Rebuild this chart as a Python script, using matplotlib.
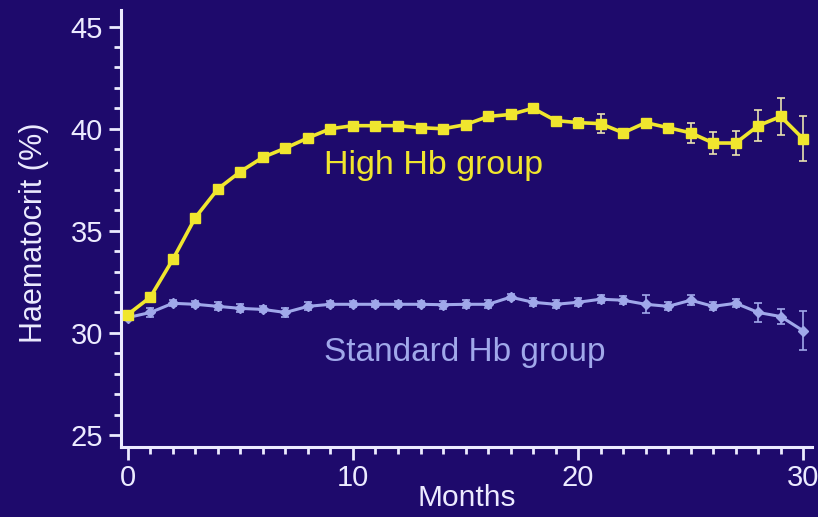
import matplotlib
matplotlib.use("Agg")
import matplotlib.pyplot as plt
from matplotlib.ticker import MultipleLocator

months = list(range(31))

high_hb = [30.9, 31.75, 33.6, 35.65, 37.05, 37.9, 38.6, 39.05, 39.55, 40.0,
           40.15, 40.15, 40.15, 40.05, 40.0, 40.2, 40.6, 40.7, 41.0, 40.4,
           40.3, 40.25, 39.8, 40.3, 40.05, 39.8, 39.3, 39.3, 40.15, 40.6, 39.5]
high_err = [0.1, 0.1, 0.1, 0.1, 0.1, 0.1, 0.1, 0.1, 0.1, 0.1,
            0.1, 0.1, 0.1, 0.1, 0.1, 0.1, 0.1, 0.1, 0.15, 0.15,
            0.25, 0.45, 0.15, 0.2, 0.2, 0.5, 0.55, 0.6, 0.75, 0.9, 1.1]

std_hb = [30.75, 31.0, 31.45, 31.4, 31.3, 31.2, 31.15, 31.0, 31.3, 31.4,
          31.4, 31.4, 31.4, 31.4, 31.38, 31.4, 31.4, 31.75, 31.5, 31.4,
          31.5, 31.65, 31.6, 31.4, 31.3, 31.6, 31.3, 31.45, 31.0, 30.8, 30.1]
std_err = [0.1, 0.2, 0.15, 0.15, 0.2, 0.2, 0.15, 0.2, 0.2, 0.15,
           0.15, 0.15, 0.15, 0.15, 0.2, 0.2, 0.2, 0.15, 0.2, 0.2,
           0.2, 0.2, 0.2, 0.45, 0.2, 0.25, 0.2, 0.2, 0.45, 0.35, 0.95]

BG = "#1e0a6c"
YELLOW = "#f0e62e"
BLUE = "#a0a8ea"
AXIS = "#ecebff"

plt.rcParams["font.family"] = ["Liberation Sans", "DejaVu Sans"]

fig = plt.figure(figsize=(8.18, 5.17), dpi=100, facecolor=BG)
ax = fig.add_axes([0.148, 0.135, 0.845, 0.845], facecolor=BG)

ax.errorbar(months, std_hb, yerr=std_err, color=BLUE, lw=2.2, marker="D",
            ms=5, mec=BLUE, mfc=BLUE, ecolor=BLUE, elinewidth=1.2,
            capsize=3, capthick=1.2, zorder=3)
ax.errorbar(months, high_hb, yerr=high_err, color=YELLOW, lw=2.6, marker="s",
            ms=6.5, mec=YELLOW, mfc=YELLOW, ecolor="#e8e2b0", elinewidth=1.2,
            capsize=3, capthick=1.2, zorder=4)

ax.text(8.7, 38.2, "High Hb group", color=YELLOW, fontsize=24.5,
        ha="left", va="center")
ax.text(8.7, 29.05, "Standard Hb group", color=BLUE, fontsize=24,
        ha="left", va="center")

ax.set_xlim(-0.3, 30.4)
ax.set_ylim(24.4, 45.8)
ax.xaxis.set_major_locator(MultipleLocator(10))
ax.xaxis.set_minor_locator(MultipleLocator(1))
ax.yaxis.set_major_locator(MultipleLocator(5))
ax.yaxis.set_minor_locator(MultipleLocator(1))

for side in ("top", "right"):
    ax.spines[side].set_visible(False)
for side in ("left", "bottom"):
    ax.spines[side].set_color(AXIS)
    ax.spines[side].set_linewidth(2.2)

ax.tick_params(which="both", colors=AXIS, direction="out", labelsize=21,
               labelcolor=AXIS)
ax.tick_params(which="major", length=9, width=2)
ax.tick_params(which="minor", length=5, width=2)
ax.tick_params(axis="y", which="major", pad=4)
ax.tick_params(axis="x", which="major", pad=3)

ax.set_xlabel("Months", color=AXIS, fontsize=21.5)
ax.xaxis.set_label_coords(0.5, -0.085)
ax.set_ylabel("Haematocrit (%)", color=AXIS, fontsize=22)
ax.yaxis.set_label_coords(-0.104, 0.49)

fig.savefig("out.png", dpi=100, facecolor=BG)
